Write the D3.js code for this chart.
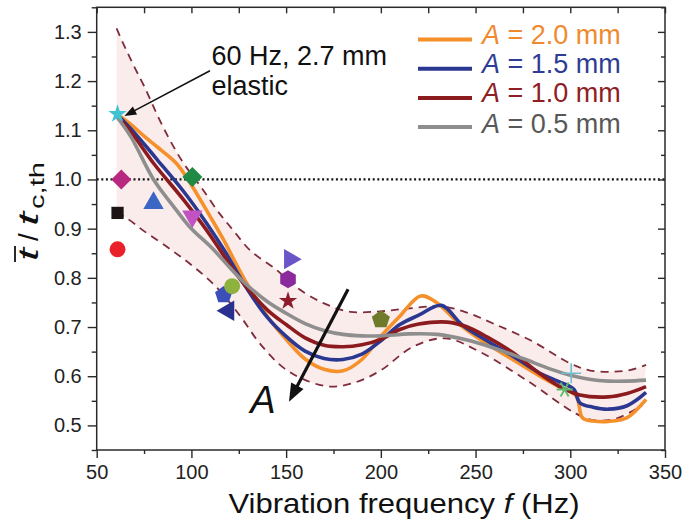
<!DOCTYPE html>
<html><head><meta charset="utf-8">
<script src="https://cdn.jsdelivr.net/npm/d3@7/dist/d3.min.js"></script>
<style>
html,body{margin:0;padding:0;background:#fff;}
svg{display:block;font-family:"Liberation Sans",Arial,Helvetica,sans-serif;}
</style></head><body>
<svg id="c" width="685" height="523"></svg>
<script>
// ---------------- data ----------------
const xTicks = [50, 100, 150, 200, 250, 300, 350];
const xMinor = [75, 125, 175, 225, 275, 325];
const yTicks = [0.5, 0.6, 0.7, 0.8, 0.9, 1.0, 1.1, 1.2, 1.3];
const yMinor = [0.45, 0.55, 0.65, 0.75, 0.85, 0.95, 1.05, 1.15, 1.25, 1.35];
const legendLabels = ["2.0", "1.5", "1.0", "0.5"];

// A = 2.0 mm
const f20 = [60.5, 68, 75, 82, 92, 99, 110, 117, 128, 140, 150, 160, 170, 180, 190, 200, 210, 221, 229, 243, 256, 270, 284, 294, 303, 306.5, 312, 320, 330, 340];
const r20 = [1.133, 1.112, 1.088, 1.066, 1.033, 0.995, 0.924, 0.877, 0.797, 0.722, 0.675, 0.635, 0.614, 0.611, 0.634, 0.681, 0.722, 0.763, 0.751, 0.701, 0.666, 0.633, 0.600, 0.579, 0.560, 0.515, 0.509, 0.508, 0.516, 0.553];
// A = 1.5 mm
const f15 = [60.5, 68, 75, 82, 96, 108, 118, 128, 140, 150, 160, 170, 180, 190, 200, 210, 220, 232, 243, 256, 270, 284, 294, 302, 305, 312, 320, 330, 340];
const r15 = [1.133, 1.103, 1.072, 1.040, 0.975, 0.911, 0.852, 0.786, 0.720, 0.681, 0.651, 0.636, 0.634, 0.645, 0.672, 0.705, 0.724, 0.744, 0.704, 0.672, 0.640, 0.606, 0.589, 0.573, 0.546, 0.537, 0.533, 0.540, 0.567];
// A = 1.0 mm
const f10 = [60.5, 68, 80, 96, 108, 118, 128, 140, 150, 160, 170, 180, 190, 200, 210, 220, 235, 245, 256, 270, 284, 294, 305, 320, 330, 340];
const r10 = [1.130, 1.097, 1.033, 0.958, 0.897, 0.840, 0.786, 0.735, 0.705, 0.678, 0.663, 0.660, 0.664, 0.675, 0.695, 0.706, 0.710, 0.701, 0.680, 0.647, 0.605, 0.580, 0.562, 0.558, 0.565, 0.579];
// A = 0.5 mm
const f05 = [60.5, 68, 80, 90, 99, 111, 120, 128, 140, 150, 160, 170, 180, 190, 200, 215, 230, 245, 260, 275, 290, 300, 310, 320, 330, 340];
const r05 = [1.128, 1.087, 1.000, 0.948, 0.904, 0.860, 0.822, 0.790, 0.752, 0.728, 0.707, 0.693, 0.685, 0.682, 0.682, 0.686, 0.685, 0.674, 0.657, 0.636, 0.614, 0.602, 0.594, 0.590, 0.590, 0.592];

// dashed envelope
const fUp = [60.5, 65, 70, 75, 85, 95, 105, 115, 122, 131, 145, 155, 170, 184, 200, 215, 232, 245, 260, 280, 300, 310, 322, 332, 340];
const rUp = [1.307, 1.268, 1.228, 1.190, 1.107, 1.038, 0.985, 0.930, 0.897, 0.856, 0.816, 0.782, 0.748, 0.731, 0.732, 0.738, 0.742, 0.730, 0.706, 0.671, 0.626, 0.612, 0.609, 0.613, 0.623];
const fLo = [60.5, 66, 75, 90, 101, 113, 126, 136, 148, 159, 173, 187, 200, 217, 234, 252, 278, 303, 313, 325, 338];
const rLo = [0.933, 0.921, 0.895, 0.855, 0.823, 0.782, 0.721, 0.667, 0.619, 0.594, 0.579, 0.588, 0.612, 0.660, 0.677, 0.650, 0.589, 0.524, 0.510, 0.515, 0.541];

// experimental / simulation points
const markF = [61, 63, 61, 61, 80, 100.5, 100.5, 117, 119.5, 121.5, 152, 151, 151, 200, 300.5, 297];
const markV = [1.133, 1.0, 0.932, 0.858, 0.952, 1.005, 0.925, 0.765, 0.733, 0.783, 0.838, 0.797, 0.753, 0.715, 0.606, 0.573];

// annotations (data coords)
const noteText = ["60 Hz, 2.7 mm", "elastic"];
const noteAt = [[110.6, 1.232], [110.6, 1.171]];
const noteArrow = [[109.8, 1.221], [64.6, 1.129]];
const bigArrow = [[182.7, 0.777], [151.5, 0.548]];
const bigLabelAt = [131, 0.525];

// ---------------- styles ----------------
const seriesColors = ["#f5902a", "#2b3892", "#8b1b1f", "#8e8e8e"];
const legendTextColors = ["#ef8a30", "#2f3c95", "#8e2024", "#585858"];
const markStyle = [
  {s: "star", c: "#3fc3d3", z: 105},
  {s: "diamond", c: "#b8287f", z: 200},
  {s: "square", c: "#1c1414", z: 150},
  {s: "circle", c: "#e8212b", z: 200},
  {s: "triUp", c: "#3a66c4", z: 180},
  {s: "diamond", c: "#1f8a46", z: 200},
  {s: "triDown", c: "#c152c4", z: 180},
  {s: "pent", c: "#3b4fb8", z: 9},
  {s: "triLeft", c: "#2b2f90", z: 180},
  {s: "circle", c: "#8db33e", z: 200},
  {s: "triRight", c: "#6a56c9", z: 180},
  {s: "hex", c: "#8b2a9c", z: 9},
  {s: "star", c: "#8e1c2b", z: 105},
  {s: "pent", c: "#6f7a2b", z: 9.5},
  {s: "plus", c: "#6cc0d0", z: 10},
  {s: "aster", c: "#5cbc6b", z: 8}
];

// ---------------- layout ----------------
const L = 96.7, R = 665, T = 7.3, B = 450;
const x = d3.scaleLinear().domain([50, 350]).range([L, R]);
const y = d3.scaleLinear().domain([0.45, 1.35]).range([B, T]);
const svg = d3.select("#c");

const lineGen = d3.line().x(d => x(d[0])).y(d => y(d[1])).curve(d3.curveCatmullRom.alpha(0.5));
const zip = (a, b) => a.map((v, i) => [v, b[i]]);

// band
const up = zip(fUp, rUp), lo = zip(fLo, rLo);
const bandPath = lineGen(up) + lineGen(lo.slice().reverse()).replace(/^M/, "L") + "Z";
svg.append("path").attr("d", bandPath).attr("fill", "#fbecec").attr("stroke", "none");

// dotted reference line
svg.append("line").attr("x1", x(50)).attr("x2", x(350)).attr("y1", y(1.0)).attr("y2", y(1.0))
  .attr("stroke", "#111").attr("stroke-width", 2.2).attr("stroke-dasharray", "2,2.6");

// dashed envelope
[up, lo].forEach(p => svg.append("path").attr("d", lineGen(p)).attr("fill", "none")
  .attr("stroke", "#7e2c3c").attr("stroke-width", 1.8).attr("stroke-dasharray", "8,6"));

// curves
const series = [zip(f20, r20), zip(f15, r15), zip(f10, r10), zip(f05, r05)];
series.forEach((p, i) => svg.append("path").attr("d", lineGen(p)).attr("fill", "none")
  .attr("stroke", seriesColors[i]).attr("stroke-width", 3.6).attr("stroke-linejoin", "round"));

// markers
function polyPath(n, r, rot) {
  const pts = d3.range(n).map(k => {
    const a = rot + k * 2 * Math.PI / n;
    return [r * Math.sin(a), -r * Math.cos(a)];
  });
  return "M" + pts.map(p => p.join(",")).join("L") + "Z";
}
const mg = svg.append("g");
markF.forEach((f, i) => {
  const st = markStyle[i];
  const g = mg.append("g").attr("transform", `translate(${x(f)},${y(markV[i])})`);
  switch (st.s) {
    case "star": g.append("path").attr("d", d3.symbol(d3.symbolStar, st.z)()).attr("fill", st.c); break;
    case "circle": g.append("path").attr("d", d3.symbol(d3.symbolCircle, st.z)()).attr("fill", st.c); break;
    case "square": g.append("path").attr("d", d3.symbol(d3.symbolSquare, st.z)()).attr("fill", st.c); break;
    case "diamond": g.append("path").attr("d", d3.symbol(d3.symbolSquare, st.z)()).attr("transform", "rotate(45)").attr("fill", st.c); break;
    case "triUp": g.append("path").attr("d", d3.symbol(d3.symbolTriangle, st.z)()).attr("fill", st.c); break;
    case "triDown": g.append("path").attr("d", d3.symbol(d3.symbolTriangle, st.z)()).attr("transform", "rotate(180)").attr("fill", st.c); break;
    case "triLeft": g.append("path").attr("d", d3.symbol(d3.symbolTriangle, st.z)()).attr("transform", "rotate(-90)").attr("fill", st.c); break;
    case "triRight": g.append("path").attr("d", d3.symbol(d3.symbolTriangle, st.z)()).attr("transform", "rotate(90)").attr("fill", st.c); break;
    case "pent": g.append("path").attr("d", polyPath(5, st.z, 0)).attr("fill", st.c); break;
    case "hex": g.append("path").attr("d", polyPath(6, st.z, 0)).attr("fill", st.c); break;
    case "plus": g.append("path").attr("d", `M${-st.z},0H${st.z}M0,${-st.z}V${st.z}`).attr("stroke", st.c).attr("stroke-width", 1.6).attr("fill", "none"); break;
    case "aster": {
      const d = [0, 60, 120].map(a => {
        const r = st.z, c = Math.cos(a * Math.PI / 180), s = Math.sin(a * Math.PI / 180);
        return `M${-r * c},${-r * s}L${r * c},${r * s}`;
      }).join("");
      g.append("path").attr("d", d).attr("stroke", st.c).attr("stroke-width", 1.8).attr("fill", "none");
      break;
    }
  }
});

// frame
svg.append("rect").attr("x", L).attr("y", T).attr("width", R - L).attr("height", B - T)
  .attr("fill", "none").attr("stroke", "#2a2a2a").attr("stroke-width", 1.5);

// axes
function styleAxis(g) {
  g.select(".domain").remove();
  g.selectAll(".tick line").attr("stroke", "#2a2a2a").attr("stroke-width", 1.4);
  g.selectAll(".tick text").attr("fill", "#222").attr("font-size", 20)
    .attr("font-family", '"Liberation Sans",Arial,sans-serif');
}
svg.append("g").attr("transform", `translate(0,${B})`)
  .call(d3.axisBottom(x).tickValues(xTicks).tickSize(8).tickPadding(7).tickFormat(d3.format("d"))).call(styleAxis);
svg.append("g").attr("transform", `translate(0,${B})`)
  .call(d3.axisBottom(x).tickValues(xMinor).tickSize(4).tickFormat("")).call(styleAxis);
svg.append("g").attr("transform", `translate(${L},0)`)
  .call(d3.axisLeft(y).tickValues(yTicks).tickSize(9).tickPadding(6).tickFormat(d3.format(".1f"))).call(styleAxis);
svg.append("g").attr("transform", `translate(${L},0)`)
  .call(d3.axisLeft(y).tickValues(yMinor).tickSize(5).tickFormat("")).call(styleAxis);
// top & right inward ticks
svg.append("g").attr("transform", `translate(0,${T})`)
  .call(d3.axisTop(x).tickValues(xTicks.concat(xMinor)).tickSize(-6).tickFormat("")).call(styleAxis);
svg.append("g").attr("transform", `translate(${R},0)`)
  .call(d3.axisRight(y).tickValues(yTicks).tickSize(-7).tickFormat("")).call(styleAxis);
svg.append("g").attr("transform", `translate(${R},0)`)
  .call(d3.axisRight(y).tickValues(yMinor).tickSize(-4).tickFormat("")).call(styleAxis);

// x title
const xt = svg.append("text").attr("x", 228.5).attr("y", 513).attr("font-size", 28).attr("fill", "#111")
  .attr("textLength", 351).attr("lengthAdjust", "spacingAndGlyphs");
xt.append("tspan").text("Vibration frequency ");
xt.append("tspan").attr("font-style", "italic").text("f");
xt.append("tspan").text(" (Hz)");

// y title (rotated)
const yg = svg.append("g").attr("transform", "translate(38,263) rotate(-90)").attr("fill", "#111");
yg.append("text").attr("x", 2).attr("y", 0).attr("font-size", 28).attr("font-style", "italic")
  .attr("textLength", 13).attr("lengthAdjust", "spacingAndGlyphs").text("t");
yg.append("line").attr("x1", 1).attr("x2", 17).attr("y1", -23).attr("y2", -23).attr("stroke", "#111").attr("stroke-width", 1.8);
yg.append("text").attr("x", 22).attr("y", 0).attr("font-size", 28).text("/");
yg.append("text").attr("x", 37).attr("y", 0).attr("font-size", 28).attr("font-style", "italic")
  .attr("textLength", 14).attr("lengthAdjust", "spacingAndGlyphs").text("t");
yg.append("text").attr("x", 54).attr("y", 6).attr("font-size", 20).attr("textLength", 47).attr("lengthAdjust", "spacingAndGlyphs").text("c,th");

// legend
legendLabels.forEach((lab, i) => {
  const ly = 39.5 + 29.2 * i;
  svg.append("line").attr("x1", 418).attr("x2", 472).attr("y1", ly).attr("y2", ly)
    .attr("stroke", seriesColors[i]).attr("stroke-width", 4);
  const t = svg.append("text").attr("x", 482).attr("y", ly + 4.5 + (i === 3 ? 1.5 : 0)).attr("font-size", 27).attr("fill", legendTextColors[i]);
  t.append("tspan").attr("font-style", "italic").text("A");
  t.append("tspan").text(" = " + lab + " mm");
});

// annotation
noteText.forEach((s, i) => svg.append("text").attr("x", x(noteAt[i][0])).attr("y", y(noteAt[i][1]))
  .attr("font-size", 27).attr("fill", "#111").text(s));
function arrow(p0, p1, w, head, hw) {
  const x0 = x(p0[0]), y0 = y(p0[1]), x1 = x(p1[0]), y1 = y(p1[1]);
  const dx = x1 - x0, dy = y1 - y0, len = Math.hypot(dx, dy), ux = dx / len, uy = dy / len;
  const bx = x1 - ux * head, by = y1 - uy * head;
  svg.append("line").attr("x1", x0).attr("y1", y0).attr("x2", bx + ux * 1).attr("y2", by + uy * 1)
    .attr("stroke", "#111").attr("stroke-width", w);
  svg.append("path").attr("d", `M${x1},${y1}L${bx - uy * hw},${by + ux * hw}L${bx + uy * hw},${by - ux * hw}Z`).attr("fill", "#111");
}
arrow(noteArrow[0], noteArrow[1], 1.5, 12, 4.5);
arrow(bigArrow[0], bigArrow[1], 3.2, 18, 7);
svg.append("text").attr("x", x(bigLabelAt[0])).attr("y", y(bigLabelAt[1])).attr("font-size", 38)
  .attr("font-style", "italic").attr("fill", "#111").text("A");
</script>
</body></html>
